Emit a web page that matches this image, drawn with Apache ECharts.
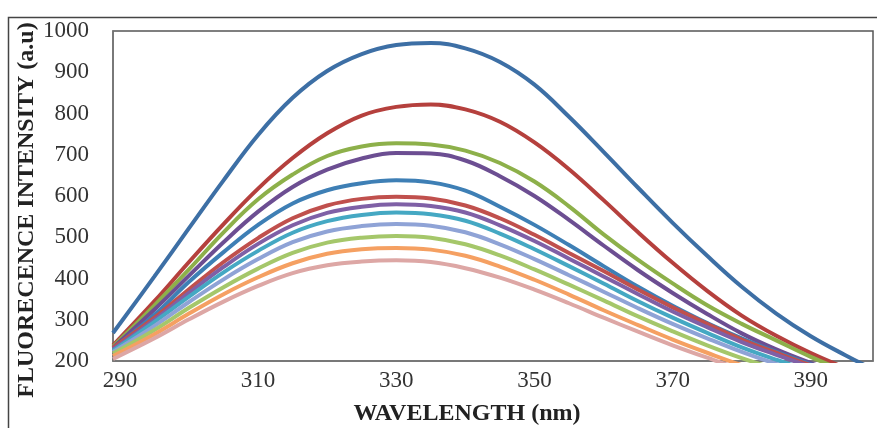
<!DOCTYPE html>
<html>
<head>
<meta charset="utf-8">
<script src="https://cdn.jsdelivr.net/npm/echarts@6/dist/echarts.min.js"></script>
<style>
html,body{margin:0;padding:0;background:#fff;}
#chart{width:877px;height:428px;}
</style>
</head>
<body>
<div id="chart"></div>
<script>
const wavelengths = [289, 295, 300, 305, 310, 315, 320, 325, 330, 335, 340, 345, 350, 355, 360, 365, 370, 375, 380, 385, 390, 395, 399];
const xTickLabels = [290, 310, 330, 350, 370, 390];
const yTickLabels = [200, 300, 400, 500, 600, 700, 800, 900, 1000];

const s1 = [268, 405, 522, 638, 748, 838, 903, 944, 966, 971, 958, 925, 870, 792, 707, 620, 535, 455, 380, 315, 260, 214, 180];
const s2 = [238, 345, 440, 532, 618, 692, 752, 795, 816, 822, 810, 780, 730, 665, 590, 512, 438, 370, 310, 261, 219, 183, 158];
const s3 = [235, 335, 422, 512, 592, 652, 697, 720, 728, 725, 710, 680, 635, 575, 507, 445, 388, 335, 290, 250, 210, 175, 150];
const s4 = [232, 325, 407, 488, 562, 622, 664, 691, 704, 703, 686, 648, 600, 542, 480, 420, 365, 314, 267, 228, 195, 165, 145];
const s5 = [230, 312, 392, 464, 530, 582, 614, 631, 638, 633, 613, 574, 530, 481, 430, 380, 334, 292, 255, 222, 192, 165, 145];
const s6 = [232, 305, 374, 440, 498, 546, 577, 593, 598, 594, 577, 546, 506, 462, 418, 373, 330, 290, 252, 220, 190, 165, 145];
const s7 = [228, 300, 365, 428, 484, 529, 559, 574, 580, 576, 560, 529, 491, 448, 405, 362, 320, 282, 246, 215, 186, 160, 140];
const s8 = [225, 295, 356, 415, 467, 511, 539, 554, 560, 556, 540, 509, 471, 430, 388, 345, 305, 268, 233, 203, 176, 150, 130];
const s9 = [222, 285, 343, 398, 447, 488, 514, 527, 532, 528, 512, 483, 447, 408, 368, 328, 290, 255, 222, 193, 168, 145, 128];
const s10 = [218, 275, 329, 379, 424, 462, 487, 499, 503, 499, 483, 456, 422, 385, 347, 308, 272, 238, 207, 180, 155, 135, 118];
const s11 = [212, 265, 315, 362, 403, 437, 460, 471, 474, 470, 455, 429, 397, 361, 323, 287, 252, 220, 190, 165, 142, 122, 108];
const s12 = [205, 255, 301, 344, 382, 413, 432, 441, 444, 440, 425, 402, 373, 340, 305, 271, 238, 208, 180, 157, 136, 118, 104];

const allSeries = [s1, s2, s3, s4, s5, s6, s7, s8, s9, s10, s11, s12];
const colors = ['#3D6FA5', '#B5403D', '#8DB04A', '#6C4E92', '#3E7FB5', '#C0504D', '#7F60A6', '#45A8C3', '#8FA3D6', '#A5C76A', '#F5A062', '#DDA7A5'];

const chart = echarts.init(document.getElementById('chart'), null, {renderer: 'canvas'});
const serif = '"Liberation Serif", "Times New Roman", serif';

const option = {
  animation: false,
  backgroundColor: '#ffffff',
  grid: {left: 113, top: 31, right: 4, bottom: 67, show: true, borderColor: '#555', borderWidth: 1.5, backgroundColor: 'transparent'},
  xAxis: {
    type: 'value', min: 289, max: 399,
    axisLine: {show: true, lineStyle: {color: '#777', width: 1.5}},
    axisTick: {show: false},
    splitLine: {show: false},
    axisLabel: {customValues: xTickLabels, fontFamily: serif, fontSize: 23, color: '#333', margin: 8}
  },
  yAxis: {
    type: 'value', min: 200, max: 1000, interval: 100,
    axisLine: {show: true, lineStyle: {color: '#777', width: 1.5}},
    axisTick: {show: false},
    splitLine: {show: false},
    axisLabel: {fontFamily: serif, fontSize: 23, color: '#333', margin: 24,
      formatter: v => yTickLabels.indexOf(v) >= 0 ? String(v) : ''}
  },
  series: allSeries.map((arr, i) => ({
    type: 'line',
    data: wavelengths.map((w, j) => [w, arr[j]]),
    smooth: 0.4,
    showSymbol: false,
    clip: true,
    lineStyle: {color: colors[i], width: 4},
    itemStyle: {color: colors[i]}
  })),
  graphic: [
    {type: 'rect', shape: {x: 8.5, y: 17.5, width: 900, height: 450}, style: {fill: 'none', stroke: '#444', lineWidth: 1.5}, silent: true},
    {type: 'text', x: 467, y: 414, style: {text: 'WAVELENGTH (nm)', font: 'bold 24px ' + serif, fill: '#222', textAlign: 'center', textVerticalAlign: 'middle'}},
    {type: 'text', x: 27, y: 210, rotation: Math.PI / 2, style: {text: 'FLUORECENCE INTENSITY (a.u)', font: 'bold 24px ' + serif, fill: '#222', textAlign: 'center', textVerticalAlign: 'middle'}}
  ]
};
chart.setOption(option);
</script>
</body>
</html>
